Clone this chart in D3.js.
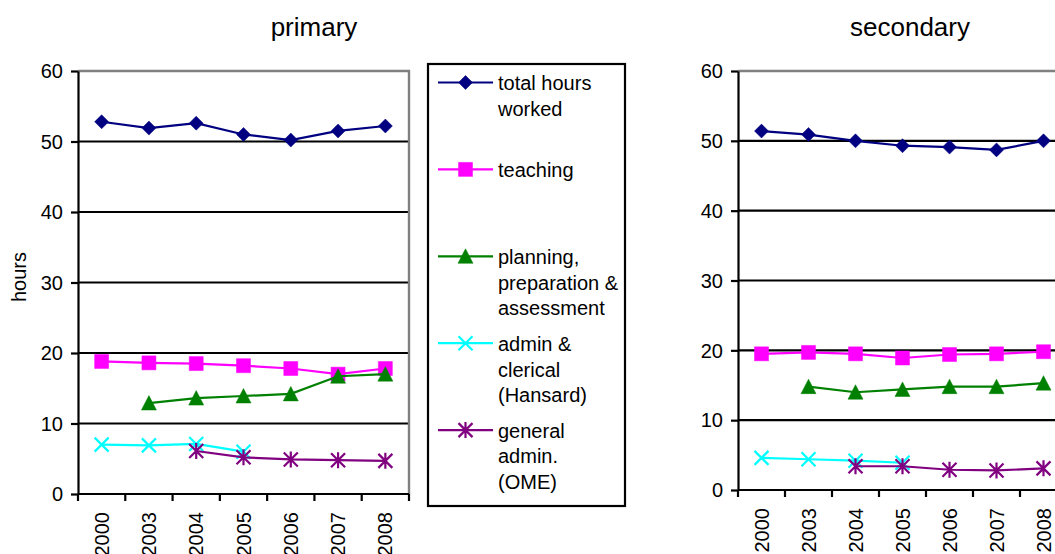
<!DOCTYPE html>
<html><head><meta charset="utf-8">
<script src="https://cdn.jsdelivr.net/npm/d3@7"></script>
<style>
body{margin:0;background:#fff}
svg{display:block}
text{font-family:"Liberation Sans",Arial,sans-serif;fill:#000}
</style>
</head><body><svg id="c" width="1055" height="554"></svg>
<script>
// ---- data ----
const years = ["2000","2003","2004","2005","2006","2007","2008"];
const yTicks = [0,10,20,30,40,50,60];
const seriesNames = ["total hours worked","teaching","planning, preparation & assessment","admin & clerical (Hansard)","general admin. (OME)"];
const legendLines = [["total hours","worked"],["teaching"],["planning,","preparation &","assessment"],["admin &","clerical","(Hansard)"],["general","admin.","(OME)"]];
const seriesColors = ["#000080","#FF00FF","#008000","#00FFFF","#800080"];
const seriesMarkers = ["diamond","square","triangle","x","star"];

const primaryTotal    = [52.8,51.9,52.6,51.0,50.2,51.5,52.2];
const primaryTeaching = [18.8,18.6,18.5,18.2,17.8,17.0,17.8];
const primaryPlanning = [null,12.9,13.6,13.9,14.2,16.7,17.0];
const primaryAdmin    = [7.0,6.9,7.1,6.0,null,null,null];
const primaryGeneral  = [null,null,6.1,5.2,4.9,4.8,4.7];

const secondaryTotal    = [51.4,50.9,50.0,49.3,49.1,48.7,50.0];
const secondaryTeaching = [19.5,19.7,19.5,18.9,19.4,19.5,19.8];
const secondaryPlanning = [null,14.8,14.0,14.4,14.8,14.8,15.3];
const secondaryAdmin    = [4.6,4.4,4.2,3.9,null,null,null];
const secondaryGeneral  = [null,null,3.4,3.4,2.9,2.8,3.1];

// ---- layout ----
const svg = d3.select("#c");
const FONT = '"Liberation Sans", Arial, sans-serif';

function markerPath(type){
  switch(type){
    case "diamond": return "M0,-7L7,0L0,7L-7,0Z";
    case "square": return "M-7,-7H7V7H-7Z";
    case "triangle": return "M0,-7.5L7.5,7L-7.5,7Z";
    case "x": return "M-7,-7L7,7M-7,7L7,-7";
    case "star": return "M-7,-7L7,7M-7,7L7,-7M0,-8V8";
  }
}
function styleMarker(sel, i){
  const filled = ["diamond","square","triangle"].includes(seriesMarkers[i]);
  sel.attr("d", markerPath(seriesMarkers[i]))
     .attr("fill", filled ? seriesColors[i] : "none")
     .attr("stroke", seriesColors[i])
     .attr("stroke-width", filled ? 0.5 : 2.2);
}

const panels = [
  {title:"primary", titleX:314, left:78, right:409, top:71, bottom:494, yLabel:true,
   series:[primaryTotal,primaryTeaching,primaryPlanning,primaryAdmin,primaryGeneral]},
  {title:"secondary", titleX:910, left:738, right:1067, top:71, bottom:490, yLabel:false,
   series:[secondaryTotal,secondaryTeaching,secondaryPlanning,secondaryAdmin,secondaryGeneral]}
];

function drawPanel(p){
  const g = svg.append("g");
  const x = d3.scaleBand().domain(years).range([p.left,p.right]).padding(0);
  const y = d3.scaleLinear().domain([0,60]).range([p.bottom,p.top]);
  const cx = d => x(d) + x.bandwidth()/2;

  // gridlines
  g.append("g").selectAll("line").data(yTicks.filter(v=>v>0 && v<60)).join("line")
    .attr("x1",p.left).attr("x2",p.right)
    .attr("y1",d=>y(d)).attr("y2",d=>y(d))
    .attr("stroke","#000").attr("stroke-width",2.2);

  // plot border (top + right) gray
  g.append("path").attr("d",`M${p.left},${y(60)}H${p.right}V${y(0)}`)
    .attr("fill","none").attr("stroke","#808080").attr("stroke-width",2.4);

  // x axis line
  g.append("line").attr("x1",p.left).attr("x2",p.right).attr("y1",y(0)).attr("y2",y(0))
    .attr("stroke","#000").attr("stroke-width",2.2);
  // x boundary ticks
  g.append("g").selectAll("line").data(years.map(d=>x(d)).concat([p.right])).join("line")
    .attr("x1",d=>d).attr("x2",d=>d).attr("y1",y(0)).attr("y2",y(0)+7)
    .attr("stroke","#000").attr("stroke-width",2.2);
  // x labels
  const xa = g.append("g").attr("transform",`translate(0,${y(0)})`)
    .call(d3.axisBottom(x).tickSize(0).tickPadding(0));
  xa.attr("font-family",FONT).attr("font-size",20);
  xa.select(".domain").remove();
  xa.selectAll(".tick text").attr("transform","rotate(-90)").attr("text-anchor","end")
    .attr("x",-18).attr("y",0).attr("dy","0.35em").attr("fill","#000");

  // y axis
  const ya = g.append("g").attr("transform",`translate(${p.left},0)`)
    .call(d3.axisLeft(y).tickValues(yTicks).tickSize(7).tickPadding(8).tickSizeOuter(0));
  ya.attr("font-family",FONT).attr("font-size",20);
  ya.select(".domain").attr("stroke","#000").attr("stroke-width",2.2);
  ya.selectAll(".tick line").attr("stroke","#000").attr("stroke-width",2.2);
  ya.selectAll(".tick text").attr("fill","#000").attr("dy","0.34em");

  // series
  p.series.forEach((vals,i)=>{
    const pts = vals.map((v,j)=>({k:years[j],v})).filter(d=>d.v!=null);
    g.append("path").datum(pts)
      .attr("d", d3.line().x(d=>cx(d.k)).y(d=>y(d.v)))
      .attr("fill","none").attr("stroke",seriesColors[i]).attr("stroke-width",2.2);
    g.append("g").selectAll("path").data(pts).join("path")
      .attr("transform",d=>`translate(${cx(d.k)},${y(d.v)})`)
      .call(styleMarker, i);
  });

  // title
  svg.append("text").attr("x",p.titleX).attr("y",36).attr("text-anchor","middle")
    .attr("font-size",26).text(p.title);

  if(p.yLabel){
    svg.append("text").attr("transform",`translate(26,277) rotate(-90)`)
      .attr("text-anchor","middle").attr("font-size",20).text("hours");
  }
}
panels.forEach(drawPanel);

// ---- legend ----
const lg = svg.append("g");
lg.append("rect").attr("x",428).attr("y",64).attr("width",197).attr("height",442)
  .attr("fill","#fff").attr("stroke","#000").attr("stroke-width",2.2);
seriesNames.forEach((name,i)=>{
  const ly = 82.5 + i*86.9;
  const e = lg.append("g").attr("transform",`translate(0,${ly})`);
  e.append("line").attr("x1",438).attr("x2",493).attr("y1",0).attr("y2",0)
    .attr("stroke",seriesColors[i]).attr("stroke-width",2.2);
  e.append("path").attr("transform","translate(465.5,0)").call(styleMarker,i);
  const t = e.append("text").attr("x",498).attr("y",7.7).attr("font-size",20);
  legendLines[i].forEach((ln,k)=>{
    t.append("tspan").attr("x",498).attr("dy",k===0?0:25.7).text(ln);
  });
});
</script>
</body></html>
